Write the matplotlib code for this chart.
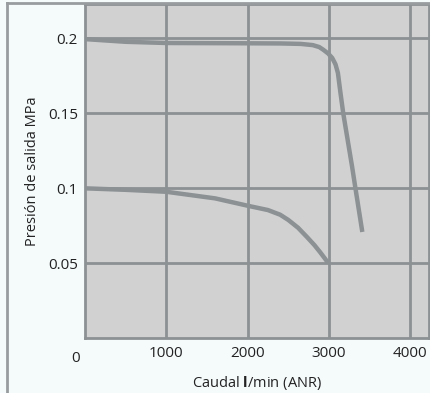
import matplotlib.pyplot as plt
from matplotlib.lines import Line2D

# curve readings (flow l/min, pressure MPa)
upper_flow = [0, 500, 1000, 2000, 2400, 2650, 2800, 2880, 2930, 2990, 3040, 3080, 3110, 3140, 3175,
              3285, 3325, 3410]
upper_pres = [0.1993, 0.1975, 0.1967, 0.1965, 0.1964, 0.1961, 0.1953, 0.1940, 0.1922, 0.1897, 0.1867,
              0.1825, 0.1767, 0.1640, 0.150, 0.1140, 0.100, 0.0707]

lower_flow = [0, 500, 1000, 1600, 2000, 2250, 2400, 2500, 2620, 2730, 2820, 2890, 2950, 2990]
lower_pres = [0.0998, 0.0988, 0.0975, 0.0931, 0.0882, 0.0853, 0.0822, 0.0787, 0.0735, 0.0673, 0.0620,
              0.0573, 0.0530, 0.0500]

x_ticks = [1000, 2000, 3000, 4000]
y_ticks = [0.05, 0.1, 0.15, 0.2]
y_tick_labels = ['0.05', '0.1', '0.15', '0.2']

plt.rcParams['font.family'] = ['Open Sans', 'DejaVu Sans']
plt.rcParams['mathtext.fontset'] = 'custom'
plt.rcParams['mathtext.bf'] = 'Open Sans:bold'
plt.rcParams['mathtext.rm'] = 'Open Sans'

gray = '#8c9194'
W, H = 430, 393

fig = plt.figure(figsize=(W / 100, H / 100), dpi=100, facecolor='#f5fafb')
ax = fig.add_axes([85 / W, 55 / H, (429 - 85) / W, (338 - 4) / H])
ax.set_facecolor('#d1d1d1')

ax.plot(upper_flow, upper_pres, color=gray, lw=3.2, solid_capstyle='butt',
        solid_joinstyle='round', zorder=3)
ax.plot(lower_flow, lower_pres, color=gray, lw=3.2, solid_capstyle='butt',
        solid_joinstyle='round', zorder=3)

ax.set_xlim(0, 4230)
ax.set_ylim(0, 0.2227)
ax.set_xticks(x_ticks)
ax.set_yticks(y_ticks)
ax.set_yticklabels(y_tick_labels)
ax.tick_params(length=0, labelsize=11, colors='#222222', pad=6)
ax.tick_params(axis='y', pad=5)
ax.grid(True, color=gray, lw=2)
ax.set_axisbelow(True)
for s in ax.spines.values():
    s.set_color(gray)
    s.set_linewidth(2)

ax.annotate('0', (0, 0), xytext=(-7, -15), textcoords='offset points',
            ha='center', va='center', fontsize=11, color='#222222')

ax.set_ylabel('Presión de salida MPa', fontsize=10.5, color='#222222', labelpad=6)
ax.set_xlabel(r'Caudal $\mathbf{l}$/min (ANR)', fontsize=10.5, color='#222222', labelpad=9)

# figure frame (left and top)
fig.add_artist(Line2D([7 / W, 7 / W], [0, 1 - 3 / H], color='#999c9e', lw=2, transform=fig.transFigure))
fig.add_artist(Line2D([7 / W, 429 / W], [1 - 3 / H, 1 - 3 / H], color='#999c9e', lw=2, transform=fig.transFigure))

fig.savefig('out.png', dpi=100, facecolor=fig.get_facecolor())
